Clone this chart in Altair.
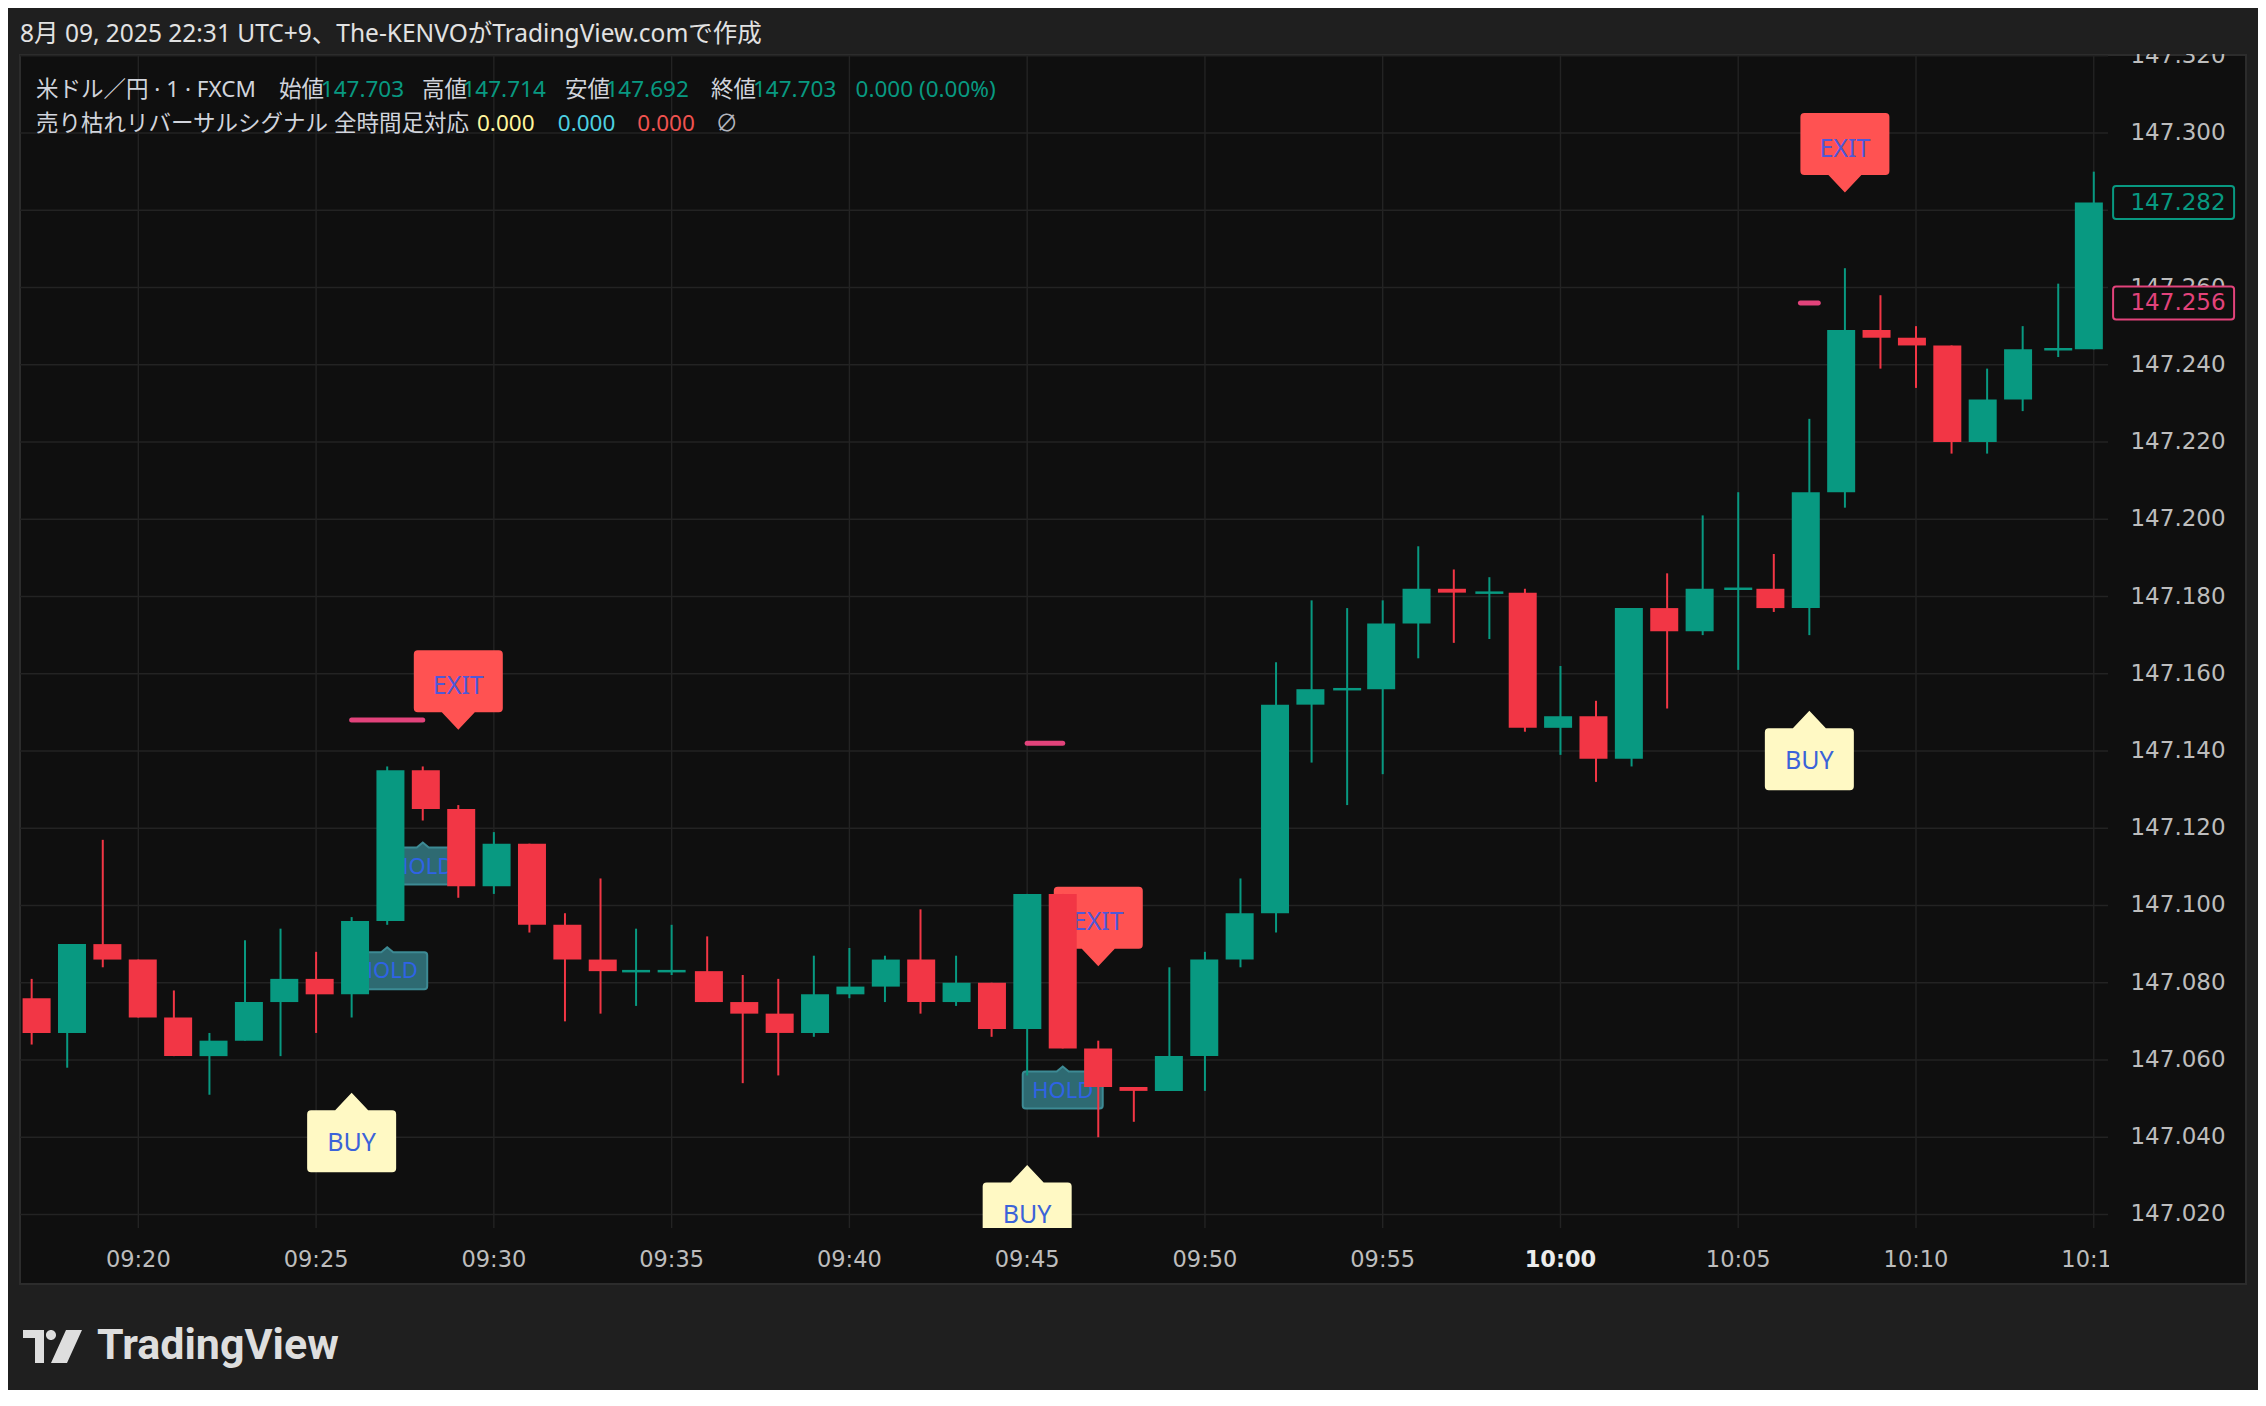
import altair as alt
import pandas as pd

# ---------------- data ----------------
times = ["09:17","09:18","09:19","09:20","09:21","09:22","09:23","09:24","09:25","09:26",
         "09:27","09:28","09:29","09:30","09:31","09:32","09:33","09:34","09:35","09:36",
         "09:37","09:38","09:39","09:40","09:41","09:42","09:43","09:44","09:45","09:46",
         "09:47","09:48","09:49","09:50","09:51","09:52","09:53","09:54","09:55","09:56",
         "09:57","09:58","09:59","10:00","10:01","10:02","10:03","10:04","10:05","10:06",
         "10:07","10:08","10:09","10:10","10:11","10:12","10:13","10:14","10:15"]
opens = [147.076,147.067,147.090,147.086,147.071,147.061,147.065,147.075,147.081,147.077,
         147.096,147.135,147.125,147.105,147.116,147.095,147.086,147.083,147.083,147.083,
         147.075,147.072,147.067,147.077,147.079,147.086,147.075,147.080,147.068,147.103,
         147.063,147.053,147.052,147.061,147.086,147.098,147.152,147.156,147.156,147.173,
         147.182,147.181,147.181,147.146,147.149,147.138,147.177,147.171,147.182,147.182,
         147.177,147.207,147.249,147.247,147.245,147.220,147.231,147.244,147.244]
highs = [147.081,147.090,147.117,147.086,147.078,147.067,147.091,147.094,147.088,147.097,
         147.136,147.136,147.126,147.119,147.116,147.098,147.107,147.094,147.095,147.092,
         147.082,147.081,147.087,147.089,147.087,147.099,147.087,147.080,147.103,147.103,
         147.065,147.053,147.084,147.088,147.107,147.163,147.179,147.177,147.179,147.193,
         147.187,147.185,147.182,147.162,147.153,147.177,147.186,147.201,147.207,147.191,
         147.226,147.265,147.258,147.250,147.245,147.239,147.250,147.261,147.290]
lows = [147.064,147.058,147.084,147.071,147.061,147.051,147.065,147.061,147.067,147.071,
        147.095,147.122,147.102,147.103,147.093,147.070,147.072,147.074,147.082,147.075,
        147.054,147.056,147.066,147.076,147.075,147.072,147.074,147.066,147.056,147.063,
        147.040,147.044,147.052,147.052,147.084,147.093,147.137,147.126,147.134,147.164,
        147.168,147.169,147.145,147.139,147.132,147.136,147.151,147.170,147.161,147.176,
        147.170,147.203,147.239,147.234,147.217,147.217,147.228,147.242,147.244]
closes = [147.067,147.090,147.086,147.071,147.061,147.065,147.075,147.081,147.077,147.096,
          147.135,147.125,147.105,147.116,147.095,147.086,147.083,147.083,147.083,147.075,
          147.072,147.067,147.077,147.079,147.086,147.075,147.080,147.068,147.103,147.063,
          147.053,147.052,147.061,147.086,147.098,147.152,147.156,147.156,147.173,147.182,
          147.181,147.181,147.146,147.149,147.138,147.177,147.171,147.182,147.182,147.177,
          147.207,147.249,147.247,147.245,147.220,147.231,147.244,147.244,147.282]

buy_times = ["09:26", "09:45", "10:07"]
buy_prices = [147.0515, 147.0328, 147.1504]
exit_times = ["09:29", "09:47", "10:08"]
exit_prices = [147.1455, 147.0843, 147.2846]
hold_times = ["09:27", "09:28", "09:46"]
hold_prices = [147.0892, 147.1163, 147.0583]

pink_times = ["09:26", "09:27", "09:28", "09:45", "09:46", "10:07"]
pink_vals = [147.148, 147.148, 147.148, 147.142, 147.142, 147.256]
pink_seg = [1, 1, 1, 2, 2, 3]

price_tick_labels = ["147.020","147.040","147.060","147.080","147.100","147.120","147.140","147.160",
                     "147.180","147.200","147.220","147.240","147.260","147.280","147.300","147.320"]
time_tick_labels = ["09:20","09:25","09:30","09:35","09:40","09:45","09:50","09:55",
                    "10:00","10:05","10:10","10:15"]

last_price = 147.282
indicator_price = 147.256

header_text = "8月 09, 2025 22:31 UTC+9、The-KENVOがTradingView.comで作成"
legend1_texts = ["米ドル／円 · 1 · FXCM", "始値", "147.703", "高値", "147.714", "安値", "147.692",
                 "終値", "147.703", "0.000 (0.00%)"]
legend2_texts = ["売り枯れリバーサルシグナル 全時間足対応", "0.000", "0.000", "0.000", "∅"]

# ---------------- styles / layout ----------------
BG = "#1f1f1f"
PANEL = "#0f0f0f"
BORDER = "#2c2c2c"
GRID = "#232323"
UP = "#089981"
DOWN = "#f23645"
PINK = "#e2437b"
AXIS_TXT = "#bdbdbd"
LEG_GRAY = "#d1d4dc"
MIX = "Noto Sans, Noto Sans CJK JP"
AX = "DejaVu Sans"

W, H = 2088, 1173


def mins(s):
    h, m = s.split(":")
    return int(h) * 60 + int(m)


xs = alt.Scale(domain=[556.672, 615.40], nice=False, zero=False)
ys = alt.Scale(domain=[147.0165, 147.3202], nice=False, zero=False)


def X(f="t"):
    return alt.X(f + ":Q", scale=xs, axis=None)


def Y(f="p"):
    return alt.Y(f + ":Q", scale=ys, axis=None)


cdf = pd.DataFrame({"t": [mins(s) for s in times], "open": opens, "high": highs,
                    "low": lows, "close": closes})
cdf["dir"] = ["up" if c >= o else "down" for o, c in zip(opens, closes)]
ccolor = alt.Color("dir:N", scale=alt.Scale(domain=["up", "down"], range=[UP, DOWN]), legend=None)

buy_df = pd.DataFrame({"t": [mins(s) for s in buy_times], "p": buy_prices})
exit_df = pd.DataFrame({"t": [mins(s) for s in exit_times], "p": exit_prices})
hold_df = pd.DataFrame({"t": [mins(s) for s in hold_times], "p": hold_prices})

pdf = pd.DataFrame({"t": [mins(s) for s in pink_times], "p": pink_vals, "seg": pink_seg})
seg_n = pdf.groupby("seg")["seg"].transform("count")
pdf_line = pdf[seg_n > 1]
pdf_dot = pdf[seg_n == 1]

yt = pd.DataFrame({"p": [float(s) for s in price_tick_labels], "label": price_tick_labels})
xt = pd.DataFrame({"t": [mins(s) for s in time_tick_labels], "label": time_tick_labels})
xt_norm = xt[xt["label"] != "10:00"]
xt_bold = xt[xt["label"] == "10:00"]

one = pd.DataFrame({"a": [0]})

BUY_PATH = ("M0,0 L0.33,0.35 L0.81,0.35 Q0.89,0.35 0.89,0.43 L0.89,1.51 Q0.89,1.59 0.81,1.59 "
            "L-0.81,1.59 Q-0.89,1.59 -0.89,1.51 L-0.89,0.43 Q-0.89,0.35 -0.81,0.35 L-0.33,0.35 Z")
EXIT_PATH = ("M0,0 L0.33,-0.35 L0.81,-0.35 Q0.89,-0.35 0.89,-0.43 L0.89,-1.51 Q0.89,-1.59 0.81,-1.59 "
             "L-0.81,-1.59 Q-0.89,-1.59 -0.89,-1.51 L-0.89,-0.43 Q-0.89,-0.35 -0.81,-0.35 L-0.33,-0.35 Z")
HOLD_PATH = ("M0,0 L0.12,0.1 L0.74,0.1 Q0.8,0.1 0.8,0.16 L0.8,0.78 Q0.8,0.84 0.74,0.84 "
             "L-0.74,0.84 Q-0.8,0.84 -0.8,0.78 L-0.8,0.16 Q-0.8,0.1 -0.74,0.1 L-0.12,0.1 Z")
BOX_PATH = ("M-0.95,-0.2727 L0.95,-0.2727 Q1,-0.2727 1,-0.2227 L1,0.2227 Q1,0.2727 0.95,0.2727 "
            "L-0.95,0.2727 Q-1,0.2727 -1,0.2227 L-1,-0.2227 Q-1,-0.2727 -0.95,-0.2727 Z")
LOGO_PATH = ("M-0.983,-0.55 L-0.283,-0.55 L-0.283,0.55 L-0.583,0.55 L-0.583,-0.283 L-0.983,-0.283 Z "
             "M-0.217,-0.383 A0.167,0.167 0 1,0 0.117,-0.383 A0.167,0.167 0 1,0 -0.217,-0.383 Z "
             "M0.45,-0.55 L0.983,-0.55 L0.483,0.55 L-0.05,0.55 Z")

# ---------------- layers ----------------
panel = alt.Chart(one).mark_rect(fill=PANEL, stroke=BORDER, strokeWidth=2, clip=False).encode(
    x=alt.value(0), x2=alt.value(2226), y=alt.value(0), y2=alt.value(1229))

ygrid = alt.Chart(yt).mark_rule(color=GRID, strokeWidth=1.4).encode(y=Y("p"))
xgrid = alt.Chart(xt).mark_rule(color=GRID, strokeWidth=1.4).encode(x=X("t"))

leg1_x = [16, 259, 300.8, 402, 442.5, 545, 585.5, 691, 733, 835.6]
leg1_c = [LEG_GRAY, LEG_GRAY, UP, LEG_GRAY, UP, LEG_GRAY, UP, LEG_GRAY, UP, UP]
leg2_x = [16, 457, 537.8, 617.3, 695.4]
leg2_c = [LEG_GRAY, "#fff59d", "#4dd0e1", "#ef5350", "#b2b5be"]
leg_df = pd.DataFrame({
    "text": legend1_texts + legend2_texts,
    "px": leg1_x + leg2_x,
    "py": [34.6] * len(leg1_x) + [69.3] * len(leg2_x),
    "col": leg1_c + leg2_c,
})
legend = alt.Chart(leg_df).mark_text(align="left", baseline="middle", font=MIX, fontSize=22.5,
                                     clip=False).encode(
    x=alt.X("px:Q", scale=None), y=alt.Y("py:Q", scale=None),
    text="text:N", color=alt.Color("col:N", scale=None))

pink_line = alt.Chart(pdf_line).mark_line(color=PINK, strokeWidth=5, strokeCap="round",
                                          clip=True).encode(x=X("t"), y=Y("p"), detail="seg:N")
pink_dot = alt.Chart(pdf_dot).mark_tick(orient="horizontal", size=23, thickness=5, cornerRadius=2.5,
                                        color=PINK, opacity=1, clip=True).encode(x=X("t"), y=Y("p"))

hold_shape = alt.Chart(hold_df).mark_point(shape=HOLD_PATH, size=10000, filled=True, fill="#2e6a72",
                                           stroke="#3d8a94", strokeWidth=2, opacity=1,
                                           clip=True).encode(x=X("t"), y=Y("p"))
hold_txt = alt.Chart(hold_df).mark_text(text="HOLD", font="Noto Sans", fontSize=22, color="#2f63e6",
                                        dy=24, baseline="middle", align="center",
                                        clip=True).encode(x=X("t"), y=Y("p"))
buy_shape = alt.Chart(buy_df).mark_point(shape=BUY_PATH, size=10000, filled=True, fill="#fff9c4",
                                         strokeWidth=0, opacity=1, clip=True).encode(x=X("t"), y=Y("p"))
buy_txt = alt.Chart(buy_df).mark_text(text="BUY", font="Noto Sans", fontSize=25, color="#3b63d9",
                                      dy=50, baseline="middle", align="center",
                                      clip=True).encode(x=X("t"), y=Y("p"))
exit_shape = alt.Chart(exit_df).mark_point(shape=EXIT_PATH, size=10000, filled=True, fill="#ff5252",
                                           strokeWidth=0, opacity=1, clip=True).encode(x=X("t"), y=Y("p"))
exit_txt = alt.Chart(exit_df).mark_text(text="EXIT", font="Noto Sans", fontSize=25, color="#4f58d8",
                                        dy=-44, baseline="middle", align="center",
                                        clip=True).encode(x=X("t"), y=Y("p"))

wicks = alt.Chart(cdf).mark_rule(strokeWidth=2, clip=True).encode(
    x=X("t"), y=Y("low"), y2="high:Q", color=ccolor)
bodies = alt.Chart(cdf).mark_bar(size=28, clip=True).encode(
    x=X("t"), y=Y("open"), y2="close:Q", color=ccolor)
doji = alt.Chart(cdf).transform_filter("datum.open == datum.close").mark_tick(
    orient="horizontal", size=28, thickness=2.5, opacity=1, clip=True).encode(
    x=X("t"), y=Y("close"), color=ccolor)

ylabels = alt.Chart(yt).mark_text(align="right", baseline="middle", font=AX, fontSize=23,
                                  color=AXIS_TXT, clip=False).encode(
    x=alt.value(2205.6), y=Y("p"), text="label:N")

box_df = pd.DataFrame({"p": [last_price, indicator_price],
                       "label": [f"{last_price:.3f}", f"{indicator_price:.3f}"],
                       "col": [UP, PINK]})
pboxes = alt.Chart(box_df).mark_point(shape=BOX_PATH, size=14641, filled=True, fill=PANEL,
                                      strokeWidth=2, opacity=1, clip=False).encode(
    x=alt.value(2153.6), y=Y("p"), stroke=alt.Stroke("col:N", scale=None))
ptexts = alt.Chart(box_df).mark_text(align="right", baseline="middle", font=AX, fontSize=23,
                                     clip=False).encode(
    x=alt.value(2205.6), y=Y("p"), text="label:N", color=alt.Color("col:N", scale=None))

xlabels = alt.Chart(xt_norm).mark_text(align="center", baseline="middle", font=AX, fontSize=22.5,
                                       color=AXIS_TXT, clip=False).encode(
    x=X("t"), y=alt.value(1204.5), text="label:N")
xlabels_b = alt.Chart(xt_bold).mark_text(align="center", baseline="middle", font=AX, fontSize=22.5,
                                         fontWeight="bold", color="#ececec", clip=False).encode(
    x=X("t"), y=alt.value(1204.5), text="label:N")

strip_cover = alt.Chart(one).mark_rect(fill=PANEL, clip=False).encode(
    x=alt.value(2089), x2=alt.value(2224), y=alt.value(1176), y2=alt.value(1227))
header_band = alt.Chart(one).mark_rect(fill=BG, clip=False).encode(
    x=alt.value(-12), x2=alt.value(2238), y=alt.value(-47), y2=alt.value(-1))

header = alt.Chart(pd.DataFrame({"text": [header_text]})).mark_text(
    align="left", baseline="middle", font=MIX, fontSize=24.5, color="#e2e2e2", clip=False).encode(
    x=alt.value(0), y=alt.value(-20.3), text="text:N")

logo_icon = alt.Chart(one).mark_point(shape=LOGO_PATH, size=3600, filled=True, fill="#dedede",
                                      strokeWidth=0, opacity=1, clip=False).encode(
    x=alt.value(32.5), y=alt.value(1291.5))
logo_txt = alt.Chart(pd.DataFrame({"text": ["TradingView"]})).mark_text(
    align="left", baseline="middle", font="Roboto", fontWeight="bold", fontSize=43,
    color="#dedede", clip=False).encode(x=alt.value(77), y=alt.value(1290.5), text="text:N")

chart = alt.layer(
    panel, ygrid, xgrid, legend, pink_line, pink_dot,
    hold_shape, hold_txt, buy_shape, buy_txt, exit_shape, exit_txt,
    wicks, bodies, doji,
    ylabels, pboxes, ptexts, xlabels, xlabels_b, strip_cover,
    header_band, header, logo_icon, logo_txt,
).resolve_scale(
    x="independent", y="independent", color="independent", stroke="independent"
).properties(
    width=W, height=H, background=BG,
    padding={"left": 12, "top": 47, "right": 150, "bottom": 162},
    autosize=alt.AutoSizeParams(type="none"),
).configure_view(stroke=None)

chart.save("out.html", embed_options={"renderer": "svg", "actions": False})
